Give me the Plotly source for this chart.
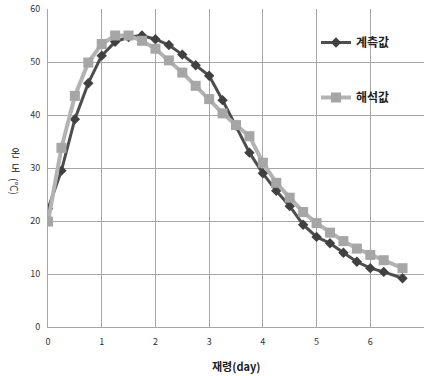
import plotly.graph_objects as go

days = [0, 0.25, 0.5, 0.75, 1, 1.25, 1.5, 1.75, 2, 2.25, 2.5, 2.75, 3, 3.25, 3.5,
        3.75, 4, 4.25, 4.5, 4.75, 5, 5.25, 5.5, 5.75, 6, 6.25, 6.6]
measured = [22.3, 29.5, 39.2, 46.0, 51.2, 53.8, 54.7, 55.0, 54.3, 53.2, 51.4, 49.4, 47.4, 42.8,
            38.0, 32.9, 29.0, 25.7, 22.8, 19.3, 17.0, 15.8, 14.0, 12.3, 11.1, 10.4, 9.2]
analysis = [19.9, 33.8, 43.6, 49.9, 53.4, 55.0, 55.0, 54.0, 52.5, 50.3, 48.0, 45.5, 43.0, 40.3,
            38.1, 36.0, 31.0, 27.2, 24.4, 21.7, 19.6, 17.8, 16.2, 14.8, 13.6, 12.6, 11.1]
names = ["계측값", "해석값"]
x_ticks = [0, 1, 2, 3, 4, 5, 6, 7]
y_ticks = [0, 10, 20, 30, 40, 50, 60]
x_title = "재령(day)"
y_title_parts = ["온", "도", "(℃)"]

FONT = "Noto Sans CJK KR"
W, H = 424, 376
L, R, T, B = 48, 0, 9, 49
PW, PH = W - L - R, H - T - B


def px(xp, yp):
    return (xp - L) / PW, 1 - (yp - T) / PH


fig = go.Figure()
fig.add_trace(go.Scatter(
    x=days, y=measured, name=names[0], mode="lines+markers", legendgroup="a",
    line=dict(color="#4d4d4d", width=3),
    marker=dict(symbol="diamond", size=8, color="#404040", line=dict(width=0)),
))
fig.add_trace(go.Scatter(
    x=days, y=analysis, name=names[1], mode="lines+markers", legendgroup="b",
    line=dict(color="#b3b3b3", width=4),
    marker=dict(symbol="square", size=10, color="#a6a6a6", line=dict(width=0)),
))

annots = []
for txt, yp, ang in [(y_title_parts[0], 152, 0), (y_title_parts[1], 167, 0), (y_title_parts[2], 186, 90)]:
    ax, ay = px(15, yp)
    annots.append(dict(text=txt, x=ax, y=ay, xref="paper", yref="paper", showarrow=False,
                       textangle=ang, xanchor="center", yanchor="middle",
                       font=dict(size=10, color="#222222", family=FONT)))
tx, ty = px(236, 366)
annots.append(dict(text="<b>" + x_title + "</b>", x=tx, y=ty, xref="paper", yref="paper",
                   showarrow=False, xanchor="center", yanchor="middle",
                   font=dict(size=11, color="#222222", family=FONT)))

fig.update_layout(
    width=W, height=H,
    margin=dict(l=L, r=R, t=T, b=B, autoexpand=False),
    paper_bgcolor="white", plot_bgcolor="white",
    font=dict(family=FONT, color="#333333", size=9),
    showlegend=True,
    legend=dict(
        x=(316 - L) / PW, y=1 - (28 - T) / PH, xanchor="left", yanchor="top",
        traceorder="grouped", tracegroupgap=36,
        font=dict(size=12, color="#222222", family=FONT, weight="bold"),
        bgcolor="rgba(0,0,0,0)", itemwidth=30,
    ),
    xaxis=dict(
        range=[0, 7], tickvals=x_ticks, showgrid=True, gridcolor="#a6a6a6", gridwidth=1,
        showline=True, linecolor="#a6a6a6", linewidth=1, zeroline=False, automargin=False,
        ticks="", tickfont=dict(size=9, color="#333333"), ticklabelstandoff=6,
    ),
    yaxis=dict(
        range=[0, 60], tickvals=y_ticks, showgrid=True, gridcolor="#a6a6a6", gridwidth=1,
        showline=True, linecolor="#a6a6a6", linewidth=1, zeroline=False, automargin=False,
        ticks="", tickfont=dict(size=9, color="#333333"), ticklabelstandoff=5,
    ),
    annotations=annots,
)

fig.write_html("out.html", config={"displayModeBar": False},
               post_script="document.body.style.margin='0';")
